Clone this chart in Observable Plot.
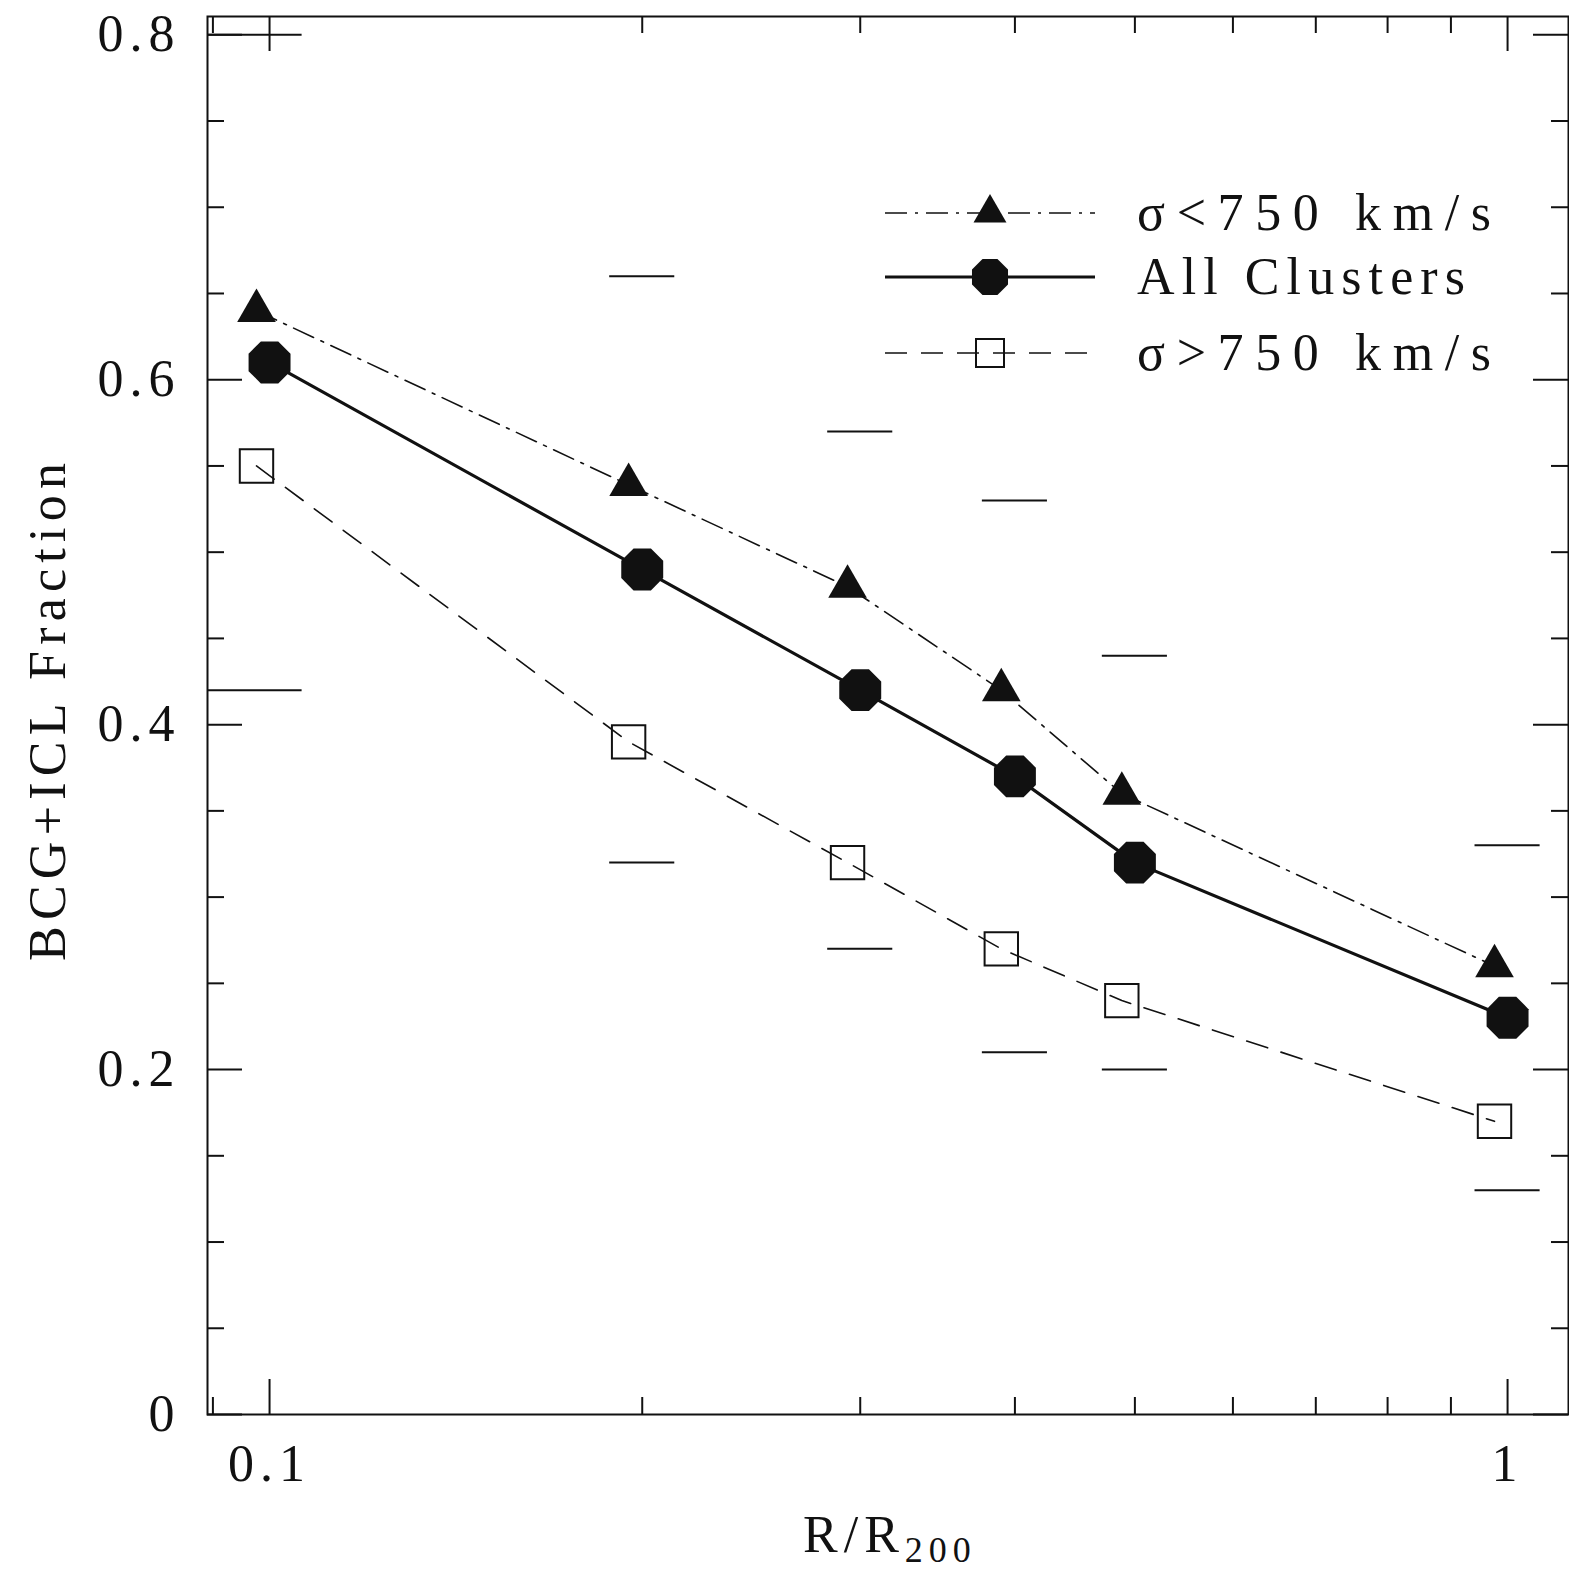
<!DOCTYPE html>
<html><head><meta charset="utf-8">
<script src="https://cdn.jsdelivr.net/npm/d3@7"></script>
<script src="https://cdn.jsdelivr.net/npm/@observablehq/plot@0.6"></script>
<style>body{margin:0;background:#fff} svg{display:block}</style>
</head><body><div id="chart"></div>
<script>
// ---- data ----
const rAll = [0.1, 0.2, 0.3, 0.4, 0.5, 1.0];
const fracAll = [0.61, 0.49, 0.42, 0.37, 0.32, 0.23];
const rSplit = [0.0976, 0.195, 0.293, 0.39, 0.488, 0.976];
const fracLowSigma = [0.64, 0.539, 0.48, 0.42, 0.36, 0.26];
const fracHighSigma = [0.55, 0.39, 0.32, 0.27, 0.24, 0.17];
const errR = [0.1, 0.2, 0.3, 0.4, 0.5, 1.0];
const errUpper = [0.80, 0.66, 0.57, 0.53, 0.44, 0.33];
const errLower = [0.42, 0.32, 0.27, 0.21, 0.20, 0.13];
const seriesNames = ["σ<750 km/s", "All Clusters", "σ>750 km/s"];
const xTicksMajor = [0.1, 1];
const xTickLabels = ["0.1", "1"];
const xTicksMinor = [0.09, 0.2, 0.3, 0.4, 0.5, 0.6, 0.7, 0.8, 0.9];
const yTicksMajor = [0, 0.2, 0.4, 0.6, 0.8];
const yTickLabels = ["0", "0.2", "0.4", "0.6", "0.8"];
const yTicksMinor = [0.05, 0.1, 0.15, 0.25, 0.3, 0.35, 0.45, 0.5, 0.55, 0.65, 0.7, 0.75];
const xTitle = "R/R", xTitleSub = "200";
const yTitle = "BCG+ICL Fraction";

// ---- layout ----
const W = 1569, H = 1574;
const mL = 207, mR = 1, mT = 16, mB = 160;
const plotW = W - mL - mR, plotH = H - mT - mB;
const xDomain = [0.0891, 1.12], yDomain = [0, 0.8106];
const FONT = "Liberation Serif";
const INK = "#111";
const capHalf = 1.0624; // half-width of error caps (log factor)

const all = rAll.map((r, i) => ({r, f: fracAll[i]}));
const low = rSplit.map((r, i) => ({r, f: fracLowSigma[i]}));
const high = rSplit.map((r, i) => ({r, f: fracHighSigma[i]}));
const errs = [];
errR.forEach((r, i) => {
  const x1 = i === 0 ? xDomain[0] : r / capHalf;
  errs.push({x1, x2: r * capHalf, y: errUpper[i]});
  errs.push({x1, x2: r * capHalf, y: errLower[i]});
});

const octagon = {draw(ctx, size) {
  const R = Math.sqrt(size / Math.PI);
  for (let k = 0; k < 8; k++) {
    const a = Math.PI / 8 + k * Math.PI / 4;
    const x = R * Math.cos(a), y = R * Math.sin(a);
    k ? ctx.lineTo(x, y) : ctx.moveTo(x, y);
  }
  ctx.closePath();
}};
const triangle = {draw(ctx, size) {
  const R = Math.sqrt(size / Math.PI);
  ctx.moveTo(0, -R);
  ctx.lineTo(R * Math.sqrt(3) / 2, R / 2);
  ctx.lineTo(-R * Math.sqrt(3) / 2, R / 2);
  ctx.closePath();
}};
const square = {draw(ctx, size) {
  const R = Math.sqrt(size / Math.PI);
  ctx.rect(-R, -R, 2 * R, 2 * R);
}};

const majorLen = 35, minorLen = 17;

const chart = Plot.plot({
  width: W, height: H,
  marginLeft: mL, marginRight: mR, marginTop: mT, marginBottom: mB,
  style: {fontFamily: FONT, background: "#fff", color: INK, letterSpacing: "6px"},
  x: {type: "log", domain: xDomain},
  y: {domain: yDomain},
  marks: [
    Plot.tickX(xTicksMajor, {x: d => d, insetTop: plotH - majorLen, stroke: INK, strokeWidth: 2}),
    Plot.tickX(xTicksMajor, {x: d => d, insetBottom: plotH - majorLen, stroke: INK, strokeWidth: 2}),
    Plot.tickX(xTicksMinor, {x: d => d, insetTop: plotH - minorLen, stroke: INK, strokeWidth: 2}),
    Plot.tickX(xTicksMinor, {x: d => d, insetBottom: plotH - minorLen, stroke: INK, strokeWidth: 2}),
    Plot.tickY(yTicksMajor, {y: d => d, insetRight: plotW - majorLen, stroke: INK, strokeWidth: 2}),
    Plot.tickY(yTicksMajor, {y: d => d, insetLeft: plotW - majorLen, stroke: INK, strokeWidth: 2}),
    Plot.tickY(yTicksMinor, {y: d => d, insetRight: plotW - minorLen, stroke: INK, strokeWidth: 2}),
    Plot.tickY(yTicksMinor, {y: d => d, insetLeft: plotW - minorLen, stroke: INK, strokeWidth: 2}),
    Plot.axisX({ticks: xTicksMajor, tickFormat: d => xTickLabels[xTicksMajor.indexOf(d)], tickSize: 0, tickPadding: 30, fontSize: 52, label: null}),
    Plot.axisY({ticks: yTicksMajor, tickFormat: d => yTickLabels[yTicksMajor.indexOf(d)], tickSize: 0, tickPadding: 27, fontSize: 52, label: null}),
    Plot.ruleY(errs, {y: "y", x1: "x1", x2: "x2", stroke: INK, strokeWidth: 2}),
    Plot.line(low, {x: "r", y: "f", stroke: INK, strokeWidth: 1.6, strokeDasharray: "22,8,3,8"}),
    Plot.line(all, {x: "r", y: "f", stroke: INK, strokeWidth: 3.2}),
    Plot.line(high, {x: "r", y: "f", stroke: INK, strokeWidth: 1.6, strokeDasharray: "22,14"}),
    Plot.dot(low, {x: "r", y: "f", symbol: triangle, r: 22.3, fill: INK, stroke: "none"}),
    Plot.dot(all, {x: "r", y: "f", symbol: octagon, r: 22.7, fill: INK, stroke: "none"}),
    Plot.dot(high, {x: "r", y: "f", symbol: square, r: 16.7, fill: "none", stroke: INK, strokeWidth: 2}),
    Plot.frame({stroke: INK, strokeWidth: 2})
  ]
});

const svg = d3.select(chart);

// axis titles
const xt = svg.append("text").attr("x", 803).attr("y", 1552).attr("text-anchor", "start")
  .attr("font-family", FONT).attr("font-size", 52).attr("fill", INK).attr("letter-spacing", "6px");
xt.append("tspan").text(xTitle);
xt.append("tspan").attr("font-size", 36).attr("dy", 10).text(xTitleSub);

svg.append("text").attr("transform", "translate(65,712) rotate(-90)")
  .attr("text-anchor", "middle").attr("font-family", FONT).attr("font-size", 52)
  .attr("fill", INK).attr("letter-spacing", "0px")
  .attr("textLength", 498).attr("lengthAdjust", "spacing").text(yTitle);

// legend
const legRows = [
  {y: 213, name: seriesNames[0], dash: "22,8,3,8", sw: 1.6, sym: "tri", len: 354},
  {y: 277, name: seriesNames[1], dash: null, sw: 3.2, sym: "oct", len: 328},
  {y: 353, name: seriesNames[2], dash: "22,14", sw: 1.6, sym: "sq", len: 354}
];
const lg = svg.append("g");
legRows.forEach(row => {
  const ln = lg.append("line").attr("x1", 885).attr("x2", 1095).attr("y1", row.y).attr("y2", row.y)
    .attr("stroke", INK).attr("stroke-width", row.sw);
  if (row.dash) ln.attr("stroke-dasharray", row.dash);
  const p = d3.path();
  if (row.sym === "tri") triangle.draw(p, Math.PI * 19 * 19);
  if (row.sym === "oct") octagon.draw(p, Math.PI * 19.5 * 19.5);
  if (row.sym === "sq") square.draw(p, Math.PI * 14 * 14);
  lg.append("path").attr("d", p.toString()).attr("transform", `translate(990,${row.y})`)
    .attr("fill", row.sym === "sq" ? "none" : INK)
    .attr("stroke", row.sym === "sq" ? INK : "none").attr("stroke-width", 2);
  lg.append("text").attr("x", 1137).attr("y", row.y + 17).attr("text-anchor", "start")
    .attr("font-family", FONT).attr("font-size", 52).attr("fill", INK).attr("letter-spacing", "0px")
    .attr("textLength", row.len).attr("lengthAdjust", "spacing").text(row.name);
});

document.getElementById("chart").appendChild(chart);
</script>
</body></html>
